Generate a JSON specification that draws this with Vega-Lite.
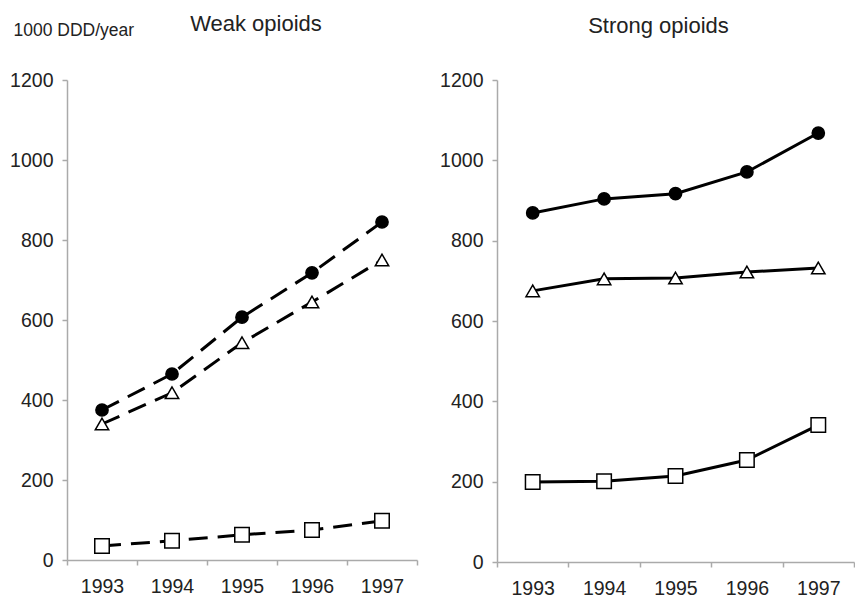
{
  "$schema": "https://vega.github.io/schema/vega-lite/v6.json",
  "background": "white",
  "padding": {"left": 9, "top": 13, "right": 0, "bottom": 0},
  "bounds": "flush",
  "spacing": 80,
  "data": {"values": [
    {"panel": "Weak opioids", "series": "Total", "year": "1993", "value": 375},
    {"panel": "Weak opioids", "series": "Total", "year": "1994", "value": 465},
    {"panel": "Weak opioids", "series": "Total", "year": "1995", "value": 607},
    {"panel": "Weak opioids", "series": "Total", "year": "1996", "value": 718},
    {"panel": "Weak opioids", "series": "Total", "year": "1997", "value": 845},
    {"panel": "Weak opioids", "series": "Triangle", "year": "1993", "value": 340},
    {"panel": "Weak opioids", "series": "Triangle", "year": "1994", "value": 418},
    {"panel": "Weak opioids", "series": "Triangle", "year": "1995", "value": 543},
    {"panel": "Weak opioids", "series": "Triangle", "year": "1996", "value": 645},
    {"panel": "Weak opioids", "series": "Triangle", "year": "1997", "value": 750},
    {"panel": "Weak opioids", "series": "Square", "year": "1993", "value": 35},
    {"panel": "Weak opioids", "series": "Square", "year": "1994", "value": 48},
    {"panel": "Weak opioids", "series": "Square", "year": "1995", "value": 63},
    {"panel": "Weak opioids", "series": "Square", "year": "1996", "value": 75},
    {"panel": "Weak opioids", "series": "Square", "year": "1997", "value": 98},
    {"panel": "Strong opioids", "series": "Total", "year": "1993", "value": 869},
    {"panel": "Strong opioids", "series": "Total", "year": "1994", "value": 904},
    {"panel": "Strong opioids", "series": "Total", "year": "1995", "value": 917},
    {"panel": "Strong opioids", "series": "Total", "year": "1996", "value": 971},
    {"panel": "Strong opioids", "series": "Total", "year": "1997", "value": 1068},
    {"panel": "Strong opioids", "series": "Triangle", "year": "1993", "value": 675},
    {"panel": "Strong opioids", "series": "Triangle", "year": "1994", "value": 705},
    {"panel": "Strong opioids", "series": "Triangle", "year": "1995", "value": 707},
    {"panel": "Strong opioids", "series": "Triangle", "year": "1996", "value": 722},
    {"panel": "Strong opioids", "series": "Triangle", "year": "1997", "value": 732},
    {"panel": "Strong opioids", "series": "Square", "year": "1993", "value": 199},
    {"panel": "Strong opioids", "series": "Square", "year": "1994", "value": 201},
    {"panel": "Strong opioids", "series": "Square", "year": "1995", "value": 214},
    {"panel": "Strong opioids", "series": "Square", "year": "1996", "value": 254},
    {"panel": "Strong opioids", "series": "Square", "year": "1997", "value": 341}
  ]},
  "config": {
    "font": "Liberation Sans",
    "view": {"stroke": null},
    "axis": {
      "grid": false,
      "labelFont": "Liberation Sans",
      "labelFontSize": 19.5,
      "labelColor": "#222",
      "domainColor": "#aaa",
      "tickColor": "#aaa",
      "domainWidth": 1.5,
      "tickWidth": 1.5,
      "tickSize": 5,
      "labelPadding": 9
    },
    "title": {"font": "Liberation Sans", "fontSize": 22, "fontWeight": "normal", "color": "#222"}
  },
  "hconcat": [
    {
      "width": 350,
      "height": 480,
      "title": {"text": "Weak opioids", "offset": 0, "dx": 14, "dy": 15},
      "transform": [{"filter": "datum.panel === 'Weak opioids'"}],
      "encoding": {
        "x": {"field": "year", "type": "ordinal", "scale": {"type": "band", "paddingInner": 0, "paddingOuter": 0},
              "axis": {"title": null, "labelAngle": 0, "tickBand": "extent", "labelPadding": 12}},
        "y": {"field": "value", "type": "quantitative", "scale": {"domain": [0, 1200]},
              "axis": {"values": [0, 200, 400, 600, 800, 1000, 1200], "format": "d", "title": "1000 DDD/year", "titleAngle": 0,
                       "titleX": -54, "titleY": -45, "titleAlign": "left", "titleBaseline": "alphabetic",
                       "titleFontSize": 17.5, "titleFontWeight": "normal", "titleColor": "#222", "titleFont": "Liberation Sans"}}
      },
      "layer": [
        {"mark": {"type": "line", "color": "black", "strokeWidth": 3, "strokeDash": [19, 10]},
         "encoding": {"detail": {"field": "series"}}},
        {"mark": {"type": "point", "filled": true, "stroke": "black", "strokeWidth": 1.5, "opacity": 1},
         "encoding": {
           "shape": {"field": "series", "scale": {"domain": ["Total", "Triangle", "Square"], "range": ["circle", "triangle-up", "square"]}, "legend": null},
           "fill": {"field": "series", "scale": {"domain": ["Total", "Triangle", "Square"], "range": ["black", "white", "white"]}, "legend": null},
           "size": {"field": "series", "scale": {"domain": ["Total", "Triangle", "Square"], "range": [150, 210, 180]}, "legend": null}
         }}
      ]
    },
    {
      "width": 357,
      "height": 482,
      "title": {"text": "Strong opioids", "offset": 32, "dx": -17},
      "transform": [{"filter": "datum.panel === 'Strong opioids'"}],
      "encoding": {
        "x": {"field": "year", "type": "ordinal", "scale": {"type": "band", "paddingInner": 0, "paddingOuter": 0},
              "axis": {"title": null, "labelAngle": 0, "tickBand": "extent", "labelPadding": 12}},
        "y": {"field": "value", "type": "quantitative", "scale": {"domain": [0, 1200]},
              "axis": {"values": [0, 200, 400, 600, 800, 1000, 1200], "format": "d", "title": null}}
      },
      "layer": [
        {"mark": {"type": "line", "color": "black", "strokeWidth": 3},
         "encoding": {"detail": {"field": "series"}}},
        {"mark": {"type": "point", "filled": true, "stroke": "black", "strokeWidth": 1.5, "opacity": 1},
         "encoding": {
           "shape": {"field": "series", "scale": {"domain": ["Total", "Triangle", "Square"], "range": ["circle", "triangle-up", "square"]}, "legend": null},
           "fill": {"field": "series", "scale": {"domain": ["Total", "Triangle", "Square"], "range": ["black", "white", "white"]}, "legend": null},
           "size": {"field": "series", "scale": {"domain": ["Total", "Triangle", "Square"], "range": [170, 210, 190]}, "legend": null}
         }}
      ]
    }
  ]
}
